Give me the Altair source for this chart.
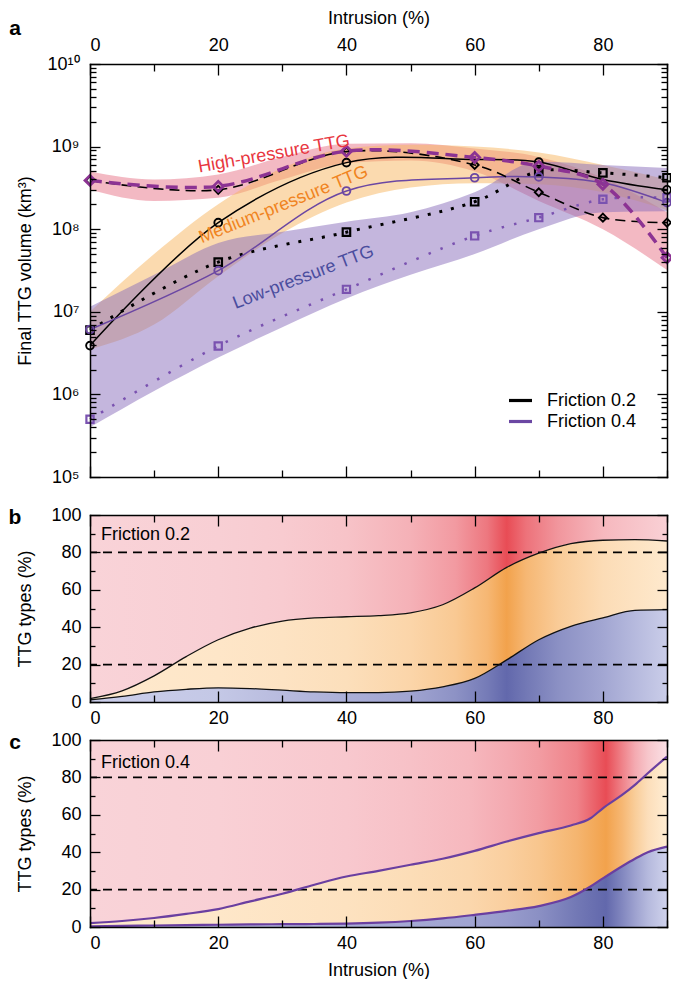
import altair as alt
import pandas as pd

FONT = "Liberation Sans"

# ---------------- panel a : final TTG volume (km3) ----------------
run_x = [0, 20, 40, 60, 70, 80, 90]
high_f02 = [3.9e8, 3.0e8, 8.7e8, 6.0e8, 2.8e8, 1.38e8, 1.2e8]
high_f04 = [3.9e8, 3.3e8, 8.8e8, 7.4e8, 5.8e8, 3.5e8, 4.5e7]
med_f02 = [3.9e6, 1.2e8, 6.4e8, 7.0e8, 6.5e8, 4.0e8, 3.0e8]
med_f04 = [6.1e6, 3.15e7, 2.9e8, 4.2e8, 4.3e8, 3.65e8, 2.1e8]
low_f02 = [6.0e6, 4.0e7, 9.2e7, 2.15e8, 5.0e8, 4.8e8, 4.2e8]
low_f04 = [5.0e5, 3.86e6, 1.87e7, 8.3e7, 1.38e8, 2.3e8, 2.4e8]

band_x = [0, 10, 20, 30, 40, 50, 60, 70, 80, 90]
high_lo = [3.0e8, 2.2e8, 2.4e8, 4.0e8, 6.3e8, 6.8e8, 5.0e8, 2.2e8, 1.0e8, 3.2e7]
high_hi = [5.0e8, 4.0e8, 4.6e8, 7.5e8, 1.08e9, 1.1e9, 9.5e8, 7.5e8, 4.2e8, 1.6e8]
med_lo = [3.5e6, 7.0e6, 2.7e7, 9.0e7, 2.1e8, 3.2e8, 3.6e8, 3.5e8, 2.8e8, 1.7e8]
med_hi = [1.0e7, 5.0e7, 2.0e8, 5.5e8, 9.5e8, 1.05e9, 1.0e9, 8.5e8, 6.0e8, 4.0e8]
low_lo = [4.0e5, 1.1e6, 2.8e6, 6.5e6, 1.45e7, 2.8e7, 5.0e7, 1.0e8, 1.6e8, 1.65e8]
low_hi = [1.15e7, 2.8e7, 6.8e7, 9.3e7, 1.23e8, 1.6e8, 2.8e8, 6.6e8, 6.0e8, 5.5e8]

friction_names = ["Friction 0.2", "Friction 0.4"]
ann_text = ["High-pressure TTG", "Medium-pressure TTG", "Low-pressure TTG"]
ann_x = [28.7, 30.2, 33.3]
ann_v = [8.1e8, 1.97e8, 2.6e7]
ann_angle = [350, 338, 339]
ann_color = ["#e8363f", "#f0841f", "#4a4d9e"]

# ---------------- panels b, c : TTG types (%) ----------------
b_x = [0, 5, 10, 15, 20, 25, 30, 35, 40, 45, 50, 55, 60, 65, 70, 75, 80, 85, 90]
b_upper = [1.8, 6.0, 14.0, 24.3, 33.3, 39.5, 43.3, 45.0, 45.6, 46.2, 47.7, 52.0, 61.0, 72.0, 79.6, 84.7, 86.5, 86.8, 86.1]
b_lower = [1.2, 3.0, 5.4, 6.8, 7.6, 7.2, 6.3, 5.4, 5.0, 5.0, 5.8, 8.1, 12.6, 22.5, 33.3, 40.5, 45.0, 49.0, 49.4]

c_x = [0, 5, 10, 15, 20, 25, 30, 35, 40, 45, 50, 55, 60, 65, 70, 75, 78, 80, 83, 85, 87, 90]
c_upper = [2.1, 3.2, 4.8, 7.0, 9.6, 13.7, 17.8, 22.6, 27.0, 30.0, 33.3, 36.5, 40.7, 45.7, 50.2, 54.3, 58.0, 63.5, 70.6, 76.0, 82.2, 91.1]
c_lower = [0.4, 0.6, 0.8, 1.0, 1.2, 1.4, 1.5, 1.6, 1.8, 2.3, 3.2, 4.6, 6.5, 8.6, 11.2, 16.0, 21.5, 26.0, 32.5, 36.5, 40.0, 43.0]

ref_levels = [20, 80]

# colour intensity profiles of the backgrounds (style)
gb_x = [0, 20, 30, 40, 50, 57, 62, 65, 68, 73, 80, 90]
gb_pink = [0, 0.03, 0.06, 0.12, 0.25, 0.42, 0.68, 1.0, 0.72, 0.45, 0.2, 0.02]
gb_orange = [0, 0.04, 0.08, 0.14, 0.28, 0.45, 0.7, 1.0, 0.7, 0.42, 0.18, 0.0]
gb_blue = [0.02, 0.08, 0.2, 0.32, 0.42, 0.6, 0.82, 1.0, 0.85, 0.62, 0.4, 0.03]

gc_x = [0, 20, 40, 50, 59, 65, 70, 76, 80.5, 83, 85, 87, 90]
gc_pink = [0, 0.02, 0.08, 0.13, 0.2, 0.3, 0.41, 0.6, 1.0, 0.6, 0.3, 0.1, -0.1]
gc_orange = [0, 0.03, 0.1, 0.17, 0.25, 0.36, 0.49, 0.73, 1.0, 0.7, 0.4, 0.15, -0.05]
gc_blue = [0.1, 0.2, 0.33, 0.38, 0.42, 0.5, 0.62, 0.85, 1.0, 0.7, 0.45, 0.22, -0.02]

PINK = ("#f9d3d8", "#e84c55")
ORANGE = ("#fee9cd", "#f2a24c")
BLUE = ("#cdd0eb", "#6268ac")

W = 577
HA = 413
HB = 187

BLACK = "#000000"
PURPLE = "#6b47a3"
PURPLE_DASH = "#8c3393"
PURPLE_SQ = "#7a52b0"


def mix(light, dark, t):
    l = [int(light[i:i + 2], 16) for i in (1, 3, 5)]
    d = [int(dark[i:i + 2], 16) for i in (1, 3, 5)]
    c = [max(0, min(255, round(l[k] + (d[k] - l[k]) * t))) for k in range(3)]
    return "#%02x%02x%02x" % tuple(c)


def grad(xs_, ts, pair):
    return alt.Gradient(
        gradient="linear", x1=0, x2=1, y1=0, y2=0,
        stops=[alt.GradientStop(color=mix(pair[0], pair[1], t), offset=x / 90) for x, t in zip(xs_, ts)],
    )


xs = alt.Scale(domain=[0, 90], nice=False, zero=False)
ya = alt.Scale(type="log", domain=[1e5, 1e10], nice=False)
yp = alt.Scale(domain=[0, 100], nice=False, zero=False)

x_tick_vals = list(range(0, 91, 10))
ya_tick_vals = [float(m * 10 ** e) for e in range(5, 10) for m in range(1, 10)] + [1e10]
yp_tick_vals = list(range(0, 101, 10))
MAJ20 = "datum.value % 20 == 0"
LOGMAJ = "abs(log(datum.value)/LN10 - round(log(datum.value)/LN10)) < 0.01"


def tick_axis(orient, offset, values, test, major, minor):
    return alt.Axis(
        orient=orient, offset=offset, values=values, labels=False, title=None,
        grid=False, domain=True, domainColor="black", domainWidth=1.5, domainCap="square",
        ticks=True, tickColor="black", tickWidth=1.3,
        tickSize={"condition": {"test": test, "value": major}, "value": minor},
        minExtent=0, zindex=2,
    )


sup = {5: "⁵", 6: "⁶", 7: "⁷", 8: "⁸", 9: "⁹", 10: "¹⁰"}
e_expr = "round(log(datum.value)/LN10)"
lab = "'10⁵'"
for e in [6, 7, 8, 9, 10]:
    lab = f"({e_expr} == {e} ? '10{sup[e]}' : {lab})"
log_label_expr = lab

NOX = alt.X("x:Q", scale=xs, axis=None)
NOYA = alt.Y("v:Q", scale=ya, axis=None)


def letter(ch, ypix):
    return alt.Chart(pd.DataFrame({"k": [0]})).mark_text(
        text=ch, font=FONT, fontSize=21, fontWeight="bold", align="center", baseline="alphabetic", color="black"
    ).encode(x=alt.value(-75), y=alt.value(ypix))


# ---------- panel a layers ----------
def band_df(lo, hi):
    return pd.DataFrame({"x": band_x, "lo": lo, "hi": hi})


band_high = alt.Chart(band_df(high_lo, high_hi)).mark_area(
    color="#eb8a9b", opacity=0.6, interpolate="monotone"
).encode(
    x=alt.X("x:Q", scale=xs, axis=alt.Axis(
        orient="top", values=[0, 20, 40, 60, 80], ticks=False, tickSize=0, domain=False, grid=False,
        labelPadding=10, title="Intrusion (%)", titleY=-46, titleBaseline="middle")),
    y=alt.Y("lo:Q", scale=ya, axis=alt.Axis(
        orient="left", values=[1e5, 1e6, 1e7, 1e8, 1e9, 1e10], ticks=False, tickSize=0, domain=False,
        grid=False, labelPadding=11, labelExpr=log_label_expr, title="Final TTG volume (km³)",
        titleX=-65, titleBaseline="middle")),
    y2="hi:Q",
)
band_med = alt.Chart(band_df(med_lo, med_hi)).mark_area(
    color="#f8b660", opacity=0.5, interpolate="monotone"
).encode(
    x=alt.X("x:Q", scale=xs, axis=tick_axis("top", -HA, x_tick_vals, MAJ20, 11, 7)),
    y=alt.Y("lo:Q", scale=ya, axis=tick_axis("right", -W, ya_tick_vals, LOGMAJ, 10, 6)),
    y2="hi:Q",
)
band_low = alt.Chart(band_df(low_lo, low_hi)).mark_area(
    color="#8a6dbb", opacity=0.5, interpolate="monotone"
).encode(
    x=alt.X("x:Q", scale=xs, axis=tick_axis("bottom", -HA, x_tick_vals, MAJ20, 11, 7)),
    y=alt.Y("lo:Q", scale=ya, axis=tick_axis("left", -W, ya_tick_vals, LOGMAJ, 10, 6)),
    y2="hi:Q",
)


def series_df(vals, name=None):
    d = pd.DataFrame({"x": run_x, "v": vals})
    if name is not None:
        d["friction"] = name
    return d


def line(vals, color, width, dash=None):
    kw = dict(color=color, strokeWidth=width, interpolate="catmull-rom")
    if dash:
        kw["strokeDash"] = dash
    return alt.Chart(series_df(vals)).mark_line(**kw).encode(x=NOX, y=NOYA)


def markers(vals, shape, color, size, sw, skip=()):
    d = series_df(vals)
    d = d[~d["x"].isin(skip)]
    return alt.Chart(d).mark_point(
        shape=shape, filled=False, color=color, size=size, strokeWidth=sw, opacity=1
    ).encode(x=NOX, y=NOYA)


med_df = pd.concat([series_df(med_f02, friction_names[0]), series_df(med_f04, friction_names[1])])
med_lines = alt.Chart(med_df).mark_line(strokeWidth=1.5, interpolate="catmull-rom").encode(
    x=NOX, y=NOYA,
    color=alt.Color("friction:N", scale=alt.Scale(domain=friction_names, range=[BLACK, PURPLE]),
                    legend=alt.Legend(orient="none", legendX=417, legendY=326, title=None,
                                      symbolType="stroke", symbolSize=529, symbolStrokeWidth=3.2,
                                      labelFont=FONT, labelFontSize=18, labelColor="black",
                                      labelOffset=13, rowPadding=0, padding=0, clipHeight=21)),
)

ann_df = pd.DataFrame({"x": ann_x, "v": ann_v, "t": ann_text, "a": ann_angle, "c": ann_color})
ann = alt.Chart(ann_df).mark_text(font=FONT, fontSize=18, align="center", baseline="middle").encode(
    x=NOX, y=NOYA, text="t:N", angle=alt.Angle("a:Q", scale=None), color=alt.Color("c:N", scale=None)
)

panel_a = alt.layer(
    band_high, band_med, band_low,
    line(low_f02, BLACK, 3, [3, 9]),
    line(low_f04, PURPLE_SQ, 2.5, [2.5, 10.5]),
    med_lines,
    line(high_f02, BLACK, 1.6, [10, 6]),
    line(high_f04, PURPLE_DASH, 3.5, [12, 7]),
    markers(low_f02, "square", BLACK, 56, 2.2),
    markers(low_f04, "square", PURPLE_SQ, 52, 2.2),
    markers(med_f02, "circle", BLACK, 60, 1.9, skip=(60, 80)),
    markers(med_f04, "circle", PURPLE, 60, 1.9, skip=(80,)),
    markers(high_f02, "diamond", BLACK, 64, 1.9),
    markers(high_f04, "diamond", PURPLE_DASH, 100, 2.8),
    ann,
    letter("a", -29),
).resolve_axis(x="independent", y="independent").properties(width=W, height=HA)


# ---------- panels b, c ----------
def types_panel(xv, upper, lower, gx, gp, go, gbl, line_color, line_width, label, ch, label_y, bottom_title):
    d = pd.DataFrame({"x": xv, "upper": upper, "lower": lower, "zero": 0, "hundred": 100})
    xlab = dict(orient="bottom", values=[0, 20, 40, 60, 80], ticks=False, tickSize=0, domain=False,
                grid=False, labelPadding=7)
    if bottom_title:
        xlab.update(title="Intrusion (%)", titleY=43, titleBaseline="middle")
    else:
        xlab.update(title=None)
    pink = alt.Chart(d).mark_area(color=grad(gx, gp, PINK), opacity=1, interpolate="monotone").encode(
        x=alt.X("x:Q", scale=xs, axis=alt.Axis(**xlab)),
        y=alt.Y("upper:Q", scale=yp, axis=alt.Axis(
            orient="left", values=[0, 20, 40, 60, 80, 100], ticks=False, tickSize=0, domain=False,
            grid=False, labelPadding=9, title="TTG types (%)", titleX=-65, titleBaseline="middle")),
        y2="hundred:Q",
    )
    orange = alt.Chart(d).mark_area(color=grad(gx, go, ORANGE), opacity=1, interpolate="monotone").encode(
        x=alt.X("x:Q", scale=xs, axis=tick_axis("top", -HB, x_tick_vals, MAJ20, 11, 7)),
        y=alt.Y("lower:Q", scale=yp, axis=tick_axis("right", -W, yp_tick_vals, MAJ20, 10, 5)),
        y2="upper:Q",
    )
    blue = alt.Chart(d).mark_area(color=grad(gx, gbl, BLUE), opacity=1, interpolate="monotone").encode(
        x=alt.X("x:Q", scale=xs, axis=tick_axis("bottom", -HB, x_tick_vals, MAJ20, 11, 7)),
        y=alt.Y("zero:Q", scale=yp, axis=tick_axis("left", -W, yp_tick_vals, MAJ20, 10, 5)),
        y2="lower:Q",
    )
    rules = alt.Chart(pd.DataFrame({"r": ref_levels})).mark_rule(
        color="black", strokeWidth=1.8, strokeDash=[9, 6]
    ).encode(y=alt.Y("r:Q", scale=yp, axis=None))
    up_line = alt.Chart(d).mark_line(color=line_color, strokeWidth=line_width, interpolate="monotone").encode(
        x=alt.X("x:Q", scale=xs, axis=None), y=alt.Y("upper:Q", scale=yp, axis=None))
    lo_line = alt.Chart(d).mark_line(color=line_color, strokeWidth=line_width, interpolate="monotone").encode(
        x=alt.X("x:Q", scale=xs, axis=None), y=alt.Y("lower:Q", scale=yp, axis=None))
    txt = alt.Chart(pd.DataFrame({"x": [1.7], "y": [label_y], "t": [label]})).mark_text(
        font=FONT, fontSize=18, align="left", baseline="alphabetic", color="black"
    ).encode(x=alt.X("x:Q", scale=xs, axis=None), y=alt.Y("y:Q", scale=yp, axis=None), text="t:N")
    return alt.layer(pink, orange, blue, rules, up_line, lo_line, txt, letter(ch, 9)).resolve_axis(
        x="independent", y="independent").properties(width=W, height=HB)


panel_b = types_panel(b_x, b_upper, b_lower, gb_x, gb_pink, gb_orange, gb_blue, "#111111", 1.3,
                      "Friction 0.2", "b", 86.6, False)
panel_c = types_panel(c_x, c_upper, c_lower, gc_x, gc_pink, gc_orange, gc_blue, "#6a3fa0", 2.2,
                      "Friction 0.4", "c", 85.0, True)

chart = alt.vconcat(panel_a, panel_b, panel_c, spacing=38, bounds="flush").resolve_scale(
    color="independent"
).properties(
    padding={"left": 0, "top": 1, "right": -7, "bottom": 0}
).configure(
    font=FONT, background="white"
).configure_view(
    strokeWidth=0
).configure_axis(
    labelFont=FONT, titleFont=FONT, labelFontSize=18, titleFontSize=18, titleFontWeight="normal",
    labelColor="black", titleColor="black",
)

chart.save("out.html", embed_options={"renderer": "svg", "actions": False})
